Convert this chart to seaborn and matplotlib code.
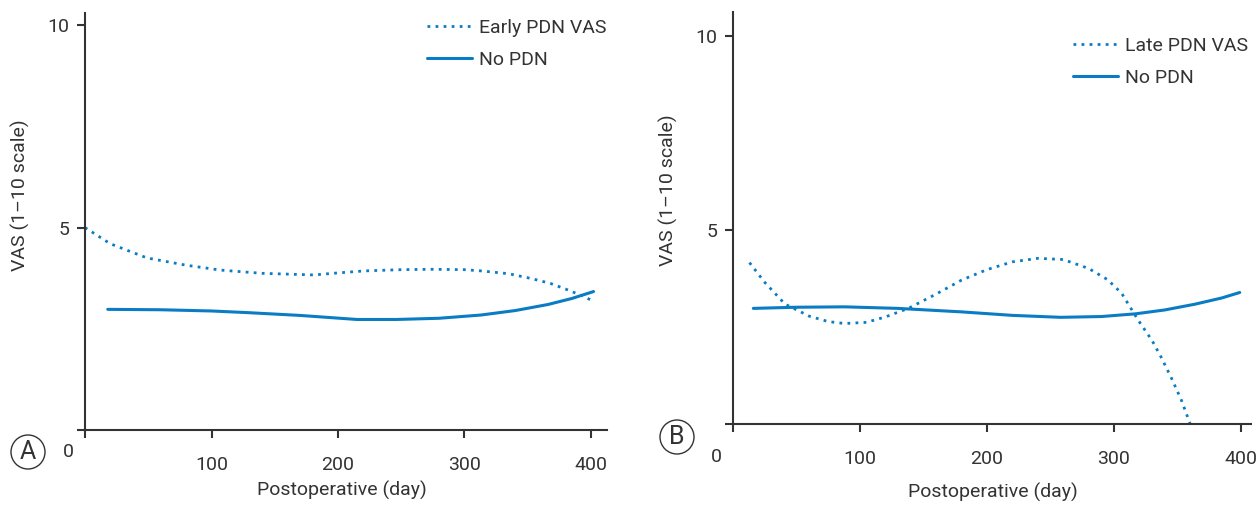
import matplotlib
matplotlib.use("Agg")
import matplotlib.pyplot as plt
import seaborn as sns
import pandas as pd

# values
early_day = [0, 20, 49, 80, 107, 140, 181, 200, 221, 250, 274, 300, 313, 335, 353, 368, 380, 392, 402]
early_vas = [5.0, 4.6, 4.25, 4.07, 3.95, 3.87, 3.83, 3.88, 3.93, 3.96, 3.97, 3.96, 3.93, 3.86, 3.74, 3.62, 3.48, 3.33, 3.18]
nopdn_a_day = [18, 60, 100, 128, 170, 215, 246, 280, 313, 340, 366, 385, 402]
nopdn_a_vas = [2.98, 2.97, 2.94, 2.90, 2.83, 2.73, 2.73, 2.76, 2.84, 2.95, 3.10, 3.25, 3.42]

late_day = [13, 25, 41, 60, 75, 88, 105, 120, 138, 160, 180, 200, 220, 240, 260, 280, 295, 306, 319, 330, 337, 345, 353, 360]
late_vas = [4.16, 3.65, 3.09, 2.78, 2.64, 2.59, 2.62, 2.76, 2.98, 3.35, 3.71, 3.98, 4.18, 4.27, 4.24, 4.01, 3.72, 3.37, 2.68, 2.15, 1.73, 1.20, 0.62, 0.0]
nopdn_b_day = [16, 50, 88, 130, 180, 220, 258, 290, 317, 340, 364, 385, 399]
nopdn_b_vas = [2.98, 3.01, 3.02, 2.98, 2.89, 2.80, 2.75, 2.77, 2.84, 2.94, 3.09, 3.25, 3.39]

xticks = [0, 100, 200, 300, 400]
xticklabels = ["", "100", "200", "300", "400"]
yticks = [0, 5, 10]
yticklabels = ["", "5", "10"]

blue = "#0a7cc4"
ink = "#333333"
fs = 14

sns.set_style("ticks")
plt.rcParams["font.family"] = ["Roboto", "DejaVu Sans"]
plt.rcParams["text.color"] = ink

W, H = 1258, 508
fig = plt.figure(figsize=(W / 100, H / 100), dpi=100)

panels = [
    dict(rect=[85, 430, 13, 413 * 1.265], pxday=1.265, ylim=10.3, dotted=(early_day, early_vas),
         solid=(nopdn_a_day, nopdn_a_vas), dlabel="Early PDN VAS", leg=(427, 19), letter="A",
         lpos=(28, 452), zpos=(68, 452), xl=(342, 490), yl=(20, 195)),
    dict(rect=[733, 424, 12, 408 * 1.27], pxday=1.27, ylim=10.62, dotted=(late_day, late_vas),
         solid=(nopdn_b_day, nopdn_b_vas), dlabel="Late PDN VAS", leg=(1073, 37), letter="B",
         lpos=(677, 437), zpos=(716, 457), xl=(993, 492), yl=(668, 190)),
]

for p in panels:
    left, bottom_px, top_px, width = p["rect"]
    ax = fig.add_axes([left / W, (H - bottom_px) / H, width / W, (bottom_px - top_px) / H])
    dd = pd.DataFrame({"day": p["dotted"][0], "vas": p["dotted"][1]})
    sd = pd.DataFrame({"day": p["solid"][0], "vas": p["solid"][1]})
    sns.lineplot(data=dd, x="day", y="vas", ax=ax, color=blue, lw=2.0,
                 linestyle=(0, (1, 1.9)), label=p["dlabel"])
    sns.lineplot(data=sd, x="day", y="vas", ax=ax, color=blue, lw=2.2, label="No PDN")
    ax.set_xlim(0, width / p["pxday"])
    ax.set_ylim(0, p["ylim"])
    ax.set_xticks(xticks)
    ax.set_xticklabels(xticklabels)
    ax.set_yticks(yticks)
    ax.set_yticklabels(yticklabels)
    ax.set_xlabel("")
    ax.set_ylabel("")
    sns.despine(ax=ax)
    for s in ["left", "bottom"]:
        ax.spines[s].set_color(ink)
        ax.spines[s].set_linewidth(1.5)
    ax.tick_params(axis="x", length=6, width=1.5, color=ink, pad=13, labelsize=fs, labelcolor=ink)
    ax.tick_params(axis="y", length=6, width=1.5, color=ink, pad=5, labelsize=fs, labelcolor=ink)
    lx, ly = p["leg"]
    ax.legend(loc="upper left", bbox_to_anchor=(lx / W, 1 - ly / H), bbox_transform=fig.transFigure,
              frameon=False, fontsize=fs, handlelength=2.3, handletextpad=0.35, borderpad=0,
              labelspacing=0.7, borderaxespad=0)
    fig.text(p["zpos"][0] / W, 1 - p["zpos"][1] / H, "0", fontsize=fs, ha="center", va="center")
    fig.text(p["lpos"][0] / W, 1 - p["lpos"][1] / H, p["letter"], fontsize=18, ha="center", va="center",
             bbox=dict(boxstyle="circle,pad=0.2", fc="white", ec=ink, lw=1.0))
    fig.text(p["xl"][0] / W, 1 - p["xl"][1] / H, "Postoperative (day)", fontsize=fs, ha="center", va="center")
    fig.text(p["yl"][0] / W, 1 - p["yl"][1] / H, "VAS (1\u201310 scale)", fontsize=fs, ha="center", va="center",
             rotation=90)

fig.savefig("out.png", dpi=100, facecolor="white")
